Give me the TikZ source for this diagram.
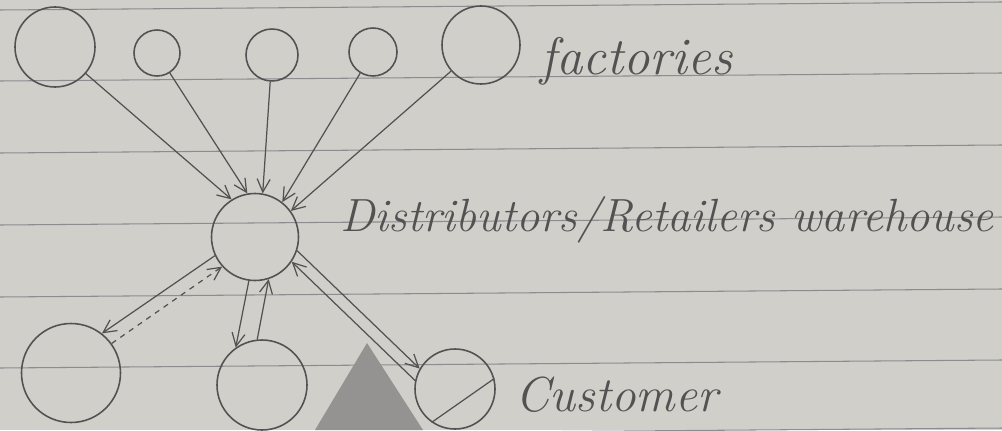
\documentclass[tikz,border=0pt]{standalone}
\usepackage{tikz}
\usetikzlibrary{arrows.meta,positioning,calc}
\definecolor{paper}{RGB}{208,207,202}
\definecolor{ink}{RGB}{82,82,82}
\definecolor{rule}{RGB}{140,140,145}

\begin{document}
\begin{tikzpicture}[
  site/.style={circle, draw=ink, line width=0.9pt, inner sep=0pt},
  label/.style={text=ink, font=\itshape\fontsize{26.5}{30}\selectfont, inner sep=0pt},
  arr/.style={-{Straight Barb[length=2.6mm,width=2.6mm]}, ink, line width=0.7pt},
  back/.style={arr, dashed}]
\fill[paper] (0,0) rectangle (20.04,-8.6);
\useasboundingbox (0,0) rectangle (20.04,-8.6);
\foreach \y in {0.12,1.54,2.98,4.42,5.86,7.28,8.64}
  \draw[rule, line width=0.6pt] (0,-\y-0.08) -- (20.04,-\y+0.08);
\fill[gray!75!paper] (6.3,-8.6) -- (7.34,-6.86) -- (8.46,-8.6) -- cycle;
\node[site, minimum size=1.60cm] (fac1) at (1.10,-0.94) {};
\node[site, minimum size=0.92cm] (fac2) at (3.14,-1.06) {};
\node[site, minimum size=1.04cm] (fac3) at (5.44,-1.10) {};
\node[site, minimum size=0.96cm] (fac4) at (7.46,-1.04) {};
\node[site, minimum size=1.56cm] (fac5) at (9.62,-0.90) {};
\node[site, minimum size=1.74cm] (ware) at (5.10,-4.74) {};
\node[site, minimum size=1.98cm] (cust1) at (1.42,-7.46) {};
\node[site, minimum size=1.80cm] (cust2) at (5.24,-7.70) {};
\node[site, minimum size=1.60cm] (cust3) at (9.10,-7.78) {};
\node[label, anchor=base west, font=\itshape\fontsize{30}{34}\selectfont] (facl) at (10.8,-1.48) {factories};
\node[label, anchor=base west] (warel) at (6.8,-4.62) {Distributors/Retailers warehouse};
\node[label, anchor=base west, font=\itshape\fontsize{28}{32}\selectfont] (custl) at (10.3,-8.22) {Customer};
\draw[arr] (fac1) -- (ware.122);
\draw[arr] (fac2) -- (ware.100);
\draw[arr] (fac3) -- (ware.80);
\draw[arr] (fac4) -- (ware.52);
\draw[arr] (fac5) -- (ware.36);
\draw[arr] (ware.205) -- (cust1.52);
\draw[back] (cust1.36) -- (ware.222);
\draw[arr] (ware.262) -- (cust2.125);
\draw[arr] (cust2.96) -- (ware.288);
\draw[arr] (ware.342) -- (cust3.150);
\draw[arr] (cust3.168) -- (ware.326);
\draw[ink, line width=0.7pt] (cust3.235) -- (cust3.15);
\end{tikzpicture}
\end{document}
